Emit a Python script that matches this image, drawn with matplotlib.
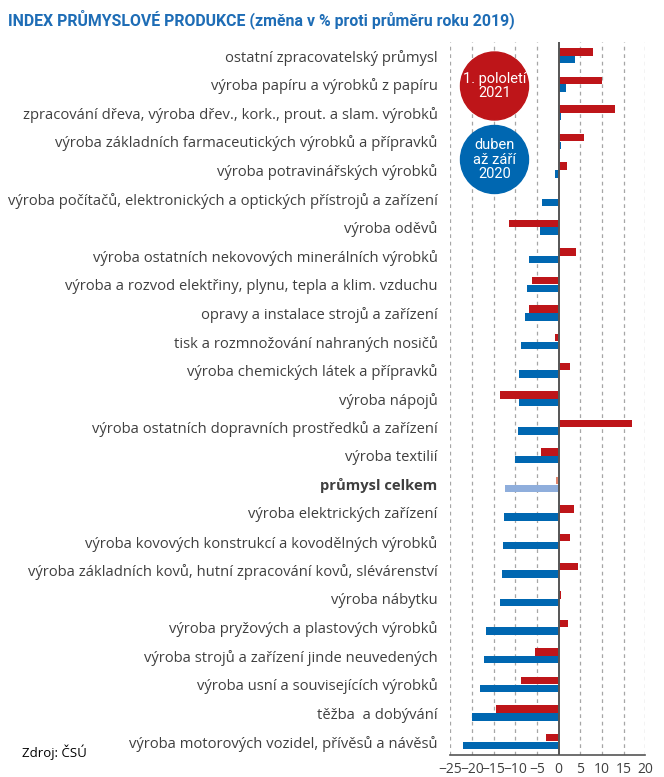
import matplotlib
matplotlib.use('Agg')
import matplotlib.pyplot as plt
from matplotlib.patches import Ellipse
import numpy as np

# data (% change vs. 2019 average)
categories = [
    'ostatní zpracovatelský průmysl',
    'výroba papíru a výrobků z papíru',
    'zpracování dřeva, výroba dřev., kork., prout. a slam. výrobků',
    'výroba základních farmaceutických výrobků a přípravků',
    'výroba potravinářských výrobků',
    'výroba počítačů, elektronických a optických přístrojů a zařízení',
    'výroba oděvů',
    'výroba ostatních nekovových minerálních výrobků',
    'výroba a rozvod elektřiny, plynu, tepla a klim. vzduchu',
    'opravy a instalace strojů a zařízení',
    'tisk a rozmnožování nahraných nosičů',
    'výroba chemických látek a přípravků',
    'výroba nápojů',
    'výroba ostatních dopravních prostředků a zařízení',
    'výroba textilií',
    'průmysl celkem',
    'výroba elektrických zařízení',
    'výroba kovových konstrukcí a kovodělných výrobků',
    'výroba základních kovů, hutní zpracování kovů, slévárenství',
    'výroba nábytku',
    'výroba pryžových a plastových výrobků',
    'výroba strojů a zařízení jinde neuvedených',
    'výroba usní a souvisejících výrobků',
    'těžba  a dobývání',
    'výroba motorových vozidel, přívěsů a návěsů',
]
h1_2021 = [8.0, 10.1, 12.9, 5.9, 2.0, 0.0, -11.4, 4.1, -6.2, -6.8, -0.8, 2.7, -13.5,
           16.8, -4.0, -0.5, 3.6, 2.7, 4.5, 0.5, 2.2, -5.4, -8.7, -14.4, -2.9]
apr_sep_2020 = [3.8, 1.6, 0.6, 0.5, -0.9, -3.8, -4.2, -6.8, -7.2, -7.7, -8.6, -9.1, -9.1,
                -9.3, -10.1, -12.3, -12.5, -12.8, -13.0, -13.5, -16.7, -17.2, -18.1, -20.0, -22.1]
total_label = 'průmysl celkem'
xticks = [-25, -20, -15, -10, -5, 0, 5, 10, 15, 20]

RED = '#BE1519'
BLUE = '#0067B1'
RED_T = '#E0846C'
BLUE_T = '#8FAEDC'
TXT = '#3F3F3F'

plt.rcParams['font.family'] = ['Open Sans', 'DejaVu Sans']

fig = plt.figure(figsize=(6.64, 7.77), dpi=100)
ax = fig.add_axes([0.678, 0.0283, 0.294, 0.9176])

y = np.arange(len(categories))
hb = 0.26
red_c = [RED_T if c == total_label else RED for c in categories]
blue_c = [BLUE_T if c == total_label else BLUE for c in categories]
ax.barh(y - 0.135, h1_2021, height=hb, color=red_c, zorder=3)
ax.barh(y + 0.135, apr_sep_2020, height=hb, color=blue_c, zorder=3)

ax.set_ylim(24.47, -0.48)
ax.set_xlim(-25, 20)
ax.set_xticks(xticks)
ax.set_xticklabels([str(t).replace('-', '\u2212') for t in xticks])
ax.set_yticks(y)
ax.set_yticklabels(categories)
for lab in ax.get_yticklabels():
    if lab.get_text() == total_label:
        lab.set_fontweight('bold')
ax.tick_params(axis='y', length=0, labelsize=10.6, colors=TXT, pad=9)
ax.tick_params(axis='x', length=0, labelsize=10, colors=TXT, pad=5)

for t in xticks:
    if t != 0:
        ax.axvline(t, color='#A6A6A6', lw=0.9, ls=(0, (3, 3)), zorder=1)
ax.axvline(0, color='#555555', lw=1.4, zorder=4)
for s in ['top', 'right', 'left']:
    ax.spines[s].set_visible(False)
ax.spines['bottom'].set_color('#555555')
ax.spines['bottom'].set_linewidth(1.2)
ax.patch.set_alpha(0)

# legend circles
r = 34
for cy, col, txt in [(86, RED, '1. pololetí\n2021'), (159.5, BLUE, 'duben\naž září\n2020')]:
    fig.add_artist(Ellipse((494.5 / 664, 1 - cy / 777), 2 * r / 664, 2 * r / 777,
                           transform=fig.transFigure, color=col, zorder=10))
    fig.text(494.5 / 664, 1 - cy / 777, txt, color='white', fontsize=10.5, ha='center',
             va='center', linespacing=1.05, zorder=11, family=['Roboto', 'DejaVu Sans'])

fig.text(0.012, 0.988, 'INDEX PRŮMYSLOVÉ PRODUKCE (změna v % proti průměru roku 2019)',
         color='#1E6DB6', fontsize=11.4, fontweight='bold', ha='left', va='top',
         family=['Roboto', 'DejaVu Sans'])
fig.text(22 / 664, 1 - 752 / 777, 'Zdroj: ČSÚ', color='black', fontsize=9.5, ha='left', va='center')

fig.savefig('out.png', dpi=100)
